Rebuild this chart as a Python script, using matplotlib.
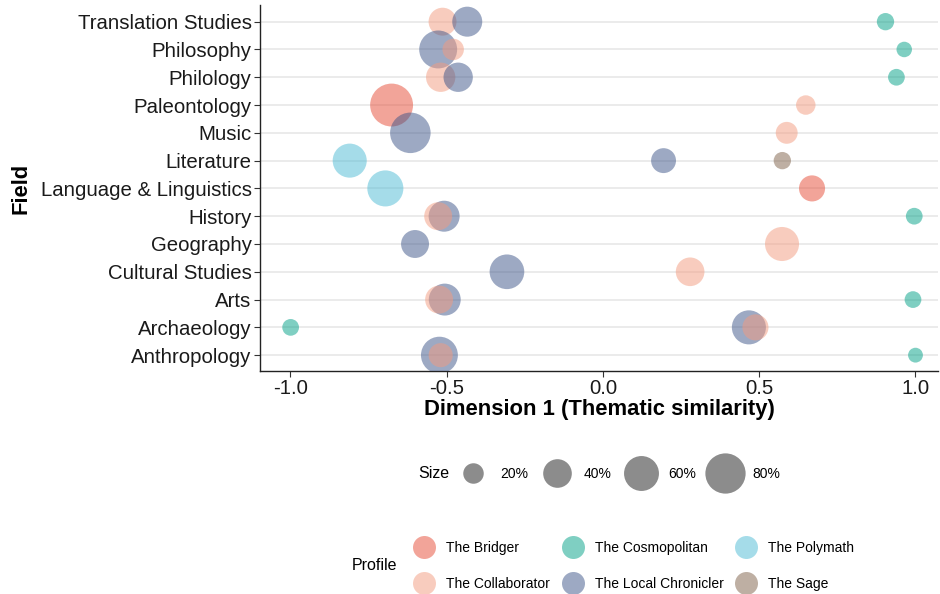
import matplotlib
matplotlib.use("Agg")
import matplotlib.pyplot as plt
from matplotlib.lines import Line2D
import numpy as np

plt.rcParams['font.family'] = ['Liberation Sans', 'DejaVu Sans']

fields = ["Anthropology", "Archaeology", "Arts", "Cultural Studies", "Geography",
          "History", "Language & Linguistics", "Literature", "Music", "Paleontology",
          "Philology", "Philosophy", "Translation Studies"]

profiles = ["The Bridger", "The Collaborator", "The Cosmopolitan",
            "The Local Chronicler", "The Polymath", "The Sage"]
profile_colors = {"The Bridger": "#E64B35", "The Collaborator": "#F39B7F",
                  "The Cosmopolitan": "#00A087", "The Local Chronicler": "#3C5488",
                  "The Polymath": "#4DBBD5", "The Sage": "#7E6148"}

# points in drawing order
pt_field = ["Translation Studies", "Translation Studies", "Translation Studies",
            "Philosophy", "Philosophy", "Philosophy",
            "Philology", "Philology", "Philology",
            "Paleontology", "Paleontology",
            "Music", "Music",
            "Literature", "Literature", "Literature",
            "Language & Linguistics", "Language & Linguistics",
            "History", "History", "History",
            "Geography", "Geography",
            "Cultural Studies", "Cultural Studies",
            "Arts", "Arts", "Arts",
            "Archaeology", "Archaeology", "Archaeology",
            "Anthropology", "Anthropology", "Anthropology"]
pt_profile = ["The Collaborator", "The Local Chronicler", "The Cosmopolitan",
              "The Local Chronicler", "The Collaborator", "The Cosmopolitan",
              "The Collaborator", "The Local Chronicler", "The Cosmopolitan",
              "The Collaborator", "The Bridger",
              "The Local Chronicler", "The Collaborator",
              "The Polymath", "The Local Chronicler", "The Sage",
              "The Polymath", "The Bridger",
              "The Local Chronicler", "The Collaborator", "The Cosmopolitan",
              "The Local Chronicler", "The Collaborator",
              "The Local Chronicler", "The Collaborator",
              "The Local Chronicler", "The Collaborator", "The Cosmopolitan",
              "The Cosmopolitan", "The Local Chronicler", "The Collaborator",
              "The Local Chronicler", "The Collaborator", "The Cosmopolitan"]
pt_x = [-0.513, -0.434, 0.904,
        -0.527, -0.479, 0.964,
        -0.519, -0.463, 0.939,
        0.649, -0.676,
        -0.616, 0.588,
        -0.810, 0.194, 0.574,
        -0.696, 0.669,
        -0.508, -0.527, 0.996,
        -0.601, 0.573,
        -0.307, 0.279,
        -0.506, -0.524, 0.992,
        -0.999, 0.467, 0.488,
        -0.523, -0.519, 1.000]
pt_size = [38, 44, 14,
           71, 22, 11,
           42, 42, 13,
           18, 91,
           81, 23,
           57, 30, 14,
           64, 33,
           47, 38, 13,
           38, 57,
           59, 40,
           50, 38, 13,
           13, 57, 33,
           67, 28, 10]

size_breaks = [20, 40, 60, 80]
size_labels = ["20%", "40%", "60%", "80%"]
x_ticks = [-1.0, -0.5, 0.0, 0.5, 1.0]

DPI = 100
def diam_px(p):
    return np.sqrt(20.0 * np.asarray(p, dtype=float) + 20.0)

def area_pt2(p):
    return (diam_px(p) * 72.0 / DPI) ** 2

ALPHA = 0.5
fig = plt.figure(figsize=(9.4, 5.94), dpi=DPI)
ax = fig.add_axes([260 / 940, 1 - 371 / 594, 678 / 940, (371 - 5) / 594])

ypos = {f: i + 1 for i, f in enumerate(fields)}
ys = [ypos[f] for f in pt_field]
cols = [profile_colors[p] for p in pt_profile]
ax.scatter(pt_x, ys, s=area_pt2(pt_size), c=cols, alpha=ALPHA, linewidths=0, zorder=3)

ax.set_ylim(0.43, 13.6)
ax.set_xlim(-1.097, 1.072)
ax.set_yticks(range(1, len(fields) + 1))
ax.set_yticklabels(fields, fontsize=14.7, color="#1a1a1a")
ax.set_xticks(x_ticks)
ax.set_xticklabels([f"{t:.1f}" for t in x_ticks], fontsize=14.7, color="#1a1a1a")
for y in range(1, len(fields) + 1):
    ax.axhline(y, color="#E5E5E5", lw=1.1, zorder=1)
for s in ["top", "right"]:
    ax.spines[s].set_visible(False)
for s in ["left", "bottom"]:
    ax.spines[s].set_linewidth(1.0)
    ax.spines[s].set_color("#222222")
ax.tick_params(axis="both", length=4, width=0.8, color="#333333", pad=2)
ax.set_xlabel("Dimension 1 (Thematic similarity)", fontsize=15.8, fontweight="bold")
ax.set_ylabel("Field", fontsize=15.8, fontweight="bold")
ax.xaxis.set_label_coords(0.5, (371 - 399) / 366)
ax.yaxis.set_label_coords((32 - 260) / 678, 0.5)

# size legend
fig.text(418 / 940, 1 - 474 / 594, "Size", fontsize=11.5, va="center", ha="left")
size_handles = [Line2D([], [], ls="none", marker="o", markersize=diam_px(b) * 72 / DPI,
                       markerfacecolor="#000000", markeredgewidth=0, alpha=0.45)
                for b in size_breaks]
leg1 = fig.legend(size_handles, size_labels, loc="center left",
                  bbox_to_anchor=(453 / 940, 1 - 474 / 594), ncol=4, frameon=False,
                  fontsize=10, handletextpad=0.5, columnspacing=0.66, handlelength=2.88,
                  borderpad=0, borderaxespad=0)

# profile legend
fig.text(352 / 940, 1 - 566 / 594, "Profile", fontsize=11.5, va="center", ha="left")
prof_handles = [Line2D([], [], ls="none", marker="o", markersize=23 * 72 / DPI,
                       markerfacecolor=profile_colors[p], markeredgewidth=0, alpha=0.5)
                for p in profiles]
leg2 = fig.legend(prof_handles, profiles, loc="center left",
                  bbox_to_anchor=(412 / 940, 1 - 566 / 594), ncol=3, frameon=False,
                  fontsize=10, handletextpad=0.72, columnspacing=0.77, handlelength=1.73,
                  labelspacing=1.55, borderpad=0, borderaxespad=0)

fig.savefig("out.png", dpi=DPI)
